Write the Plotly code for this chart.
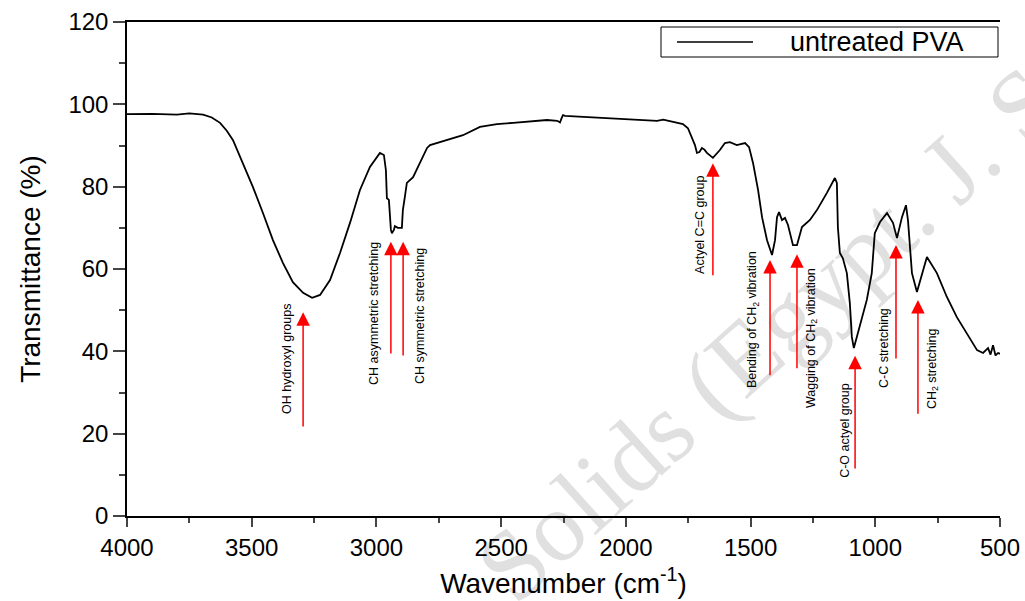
import plotly.graph_objects as go

# FTIR spectrum of untreated PVA
wavenumber = [
    4000, 3900, 3800, 3750, 3695, 3660, 3627, 3600, 3575, 3535, 3495, 3455, 3415,
    3375, 3335, 3294, 3258, 3226, 3186, 3146, 3106, 3066, 3026, 2986, 2970, 2962,
    2958, 2950, 2942, 2938, 2930, 2926, 2914, 2898, 2894, 2886, 2878, 2853, 2825,
    2797, 2785, 2717, 2653, 2585, 2517, 2452, 2384, 2316, 2275, 2264, 2258, 2252,
    2244, 1875, 1850, 1811, 1771, 1751, 1735, 1723, 1715, 1705, 1695, 1685, 1675,
    1651, 1623, 1603, 1583, 1555, 1522, 1506, 1490, 1470, 1454, 1434, 1414, 1402,
    1394, 1386, 1374, 1362, 1350, 1330, 1314, 1294, 1262, 1234, 1194, 1162, 1154,
    1150, 1142, 1130, 1114, 1102, 1094, 1086, 1074, 1054, 1034, 1014, 1002, 981,
    953, 929, 913, 893, 877, 869, 853, 833, 813, 793, 753, 713, 673, 632, 592,
    568, 548, 538, 528, 518, 508, 500,
]
transmittance = [
    97.6, 97.7, 97.5, 97.8, 97.5, 96.8, 95.5, 93.6, 91.3, 85.7, 79.9, 73.6, 67.0,
    61.5, 56.8, 54.2, 53.0, 53.7, 57.3, 63.9, 71.2, 79.2, 84.8, 88.2, 87.7, 84.0,
    77.2, 76.8, 69.5, 68.7, 69.5, 70.4, 70.0, 70.0, 74.3, 77.5, 80.9, 82.3, 85.7,
    89.4, 90.1, 91.3, 92.5, 94.5, 95.2, 95.5, 95.9, 96.2, 96.0, 95.6, 96.6, 97.4,
    97.2, 96.0, 96.3, 95.7, 95.2, 94.2, 92.1, 90.1, 88.2, 88.4, 89.4, 89.0, 88.2,
    87.0, 88.9, 90.6, 90.8, 90.1, 90.6, 89.6, 85.7, 79.2, 72.6, 67.0, 63.4, 67.0,
    72.6, 73.8, 71.9, 72.4, 70.7, 65.8, 65.8, 70.2, 71.9, 74.3, 78.5, 82.1, 80.9,
    70.2, 63.9, 62.6, 59.0, 51.7, 43.5, 40.8, 43.5, 48.3, 52.5, 59.0, 68.7, 71.4,
    73.6, 71.2, 67.5, 72.6, 75.5, 71.9, 59.0, 54.4, 59.0, 62.9, 59.0, 53.2, 48.3,
    44.4, 40.3, 39.6, 40.8, 39.2, 41.5, 39.0, 39.6, 39.4,
]
series_name = "untreated PVA"

# Band assignments: label text, arrow wavenumber, arrow tip / tail transmittance,
# label centre wavenumber and transmittance
band_labels = [
    "OH hydroxyl groups", "CH asymmetric stretching", "CH symmetric stretching",
    "Actyel C=C group", "Bending of CH<sub>2</sub> vibration",
    "Wagging of CH<sub>2</sub> vibration", "C-O actyel group", "C-C stretching",
    "CH<sub>2</sub> stretching",
]
band_wn = [3294, 2942, 2893, 1651, 1422, 1314, 1081, 917, 829]
arrow_tip = [49.5, 66.6, 66.6, 85.7, 62.2, 63.6, 38.9, 65.8, 52.5]
arrow_tail = [21.4, 39.1, 38.6, 58.1, 33.8, 35.5, 11.2, 37.9, 24.5]
label_wn = [3359, 3010, 2825, 1703, 1490, 1254, 1122, 965, 769]
label_t = [38.1, 49.3, 48.6, 70.7, 47.6, 43.2, 20.9, 40.8, 35.9]

x_ticks = [4000, 3500, 3000, 2500, 2000, 1500, 1000, 500]
y_ticks = [0, 20, 40, 60, 80, 100, 120]

FONT = "Liberation Sans, Arial, sans-serif"
PLOT_L, PLOT_R, PLOT_T, PLOT_B = 127, 1000, 22, 516


def px_to_paper(px, py):
    return (px - PLOT_L) / (PLOT_R - PLOT_L), (PLOT_B - py) / (PLOT_B - PLOT_T)


fig = go.Figure()
fig.add_trace(go.Scatter(
    x=wavenumber, y=transmittance, mode="lines", name=series_name,
    line=dict(color="black", width=1.8), showlegend=False,
))

annotations = []
shapes = []

# faint diagonal watermark, kept underneath the curve and the axis labels
wx0, wy0 = px_to_paper(740, 290)
wx1, wy1 = px_to_paper(840, 310)
shapes.append(dict(
    type="rect", xref="paper", yref="paper", x0=wx0, y0=wy1, x1=wx1, y1=wy0,
    line=dict(width=0), fillcolor="rgba(0,0,0,0)", layer="below",
    label=dict(text="Solids (Egypt. J. Sol", textangle=-42, textposition="middle center",
               font=dict(family="Liberation Serif, serif", size=100, color="#e0e0e0")),
))

# band assignment arrows and labels
for lab, wn, tip, tail, lw, lt in zip(band_labels, band_wn, arrow_tip, arrow_tail, label_wn, label_t):
    annotations.append(dict(
        x=wn, y=tip, ax=wn, ay=tail, xref="x", yref="y", axref="x", ayref="y",
        showarrow=True, arrowhead=2, arrowsize=1.8, arrowwidth=1.5,
        arrowcolor="#ff0000", text="", standoff=0,
    ))
    annotations.append(dict(
        x=lw, y=lt, xref="x", yref="y", text=lab, showarrow=False, textangle=-90,
        xanchor="center", yanchor="middle",
        font=dict(family=FONT, size=12.5, color="black"),
    ))

# boxed legend in the upper right corner
bx0, by0 = px_to_paper(661, 57)
bx1, by1 = px_to_paper(998, 27)
shapes.append(dict(type="rect", xref="paper", yref="paper", x0=bx0, y0=by0, x1=bx1, y1=by1,
                   line=dict(color="black", width=1), fillcolor="white", layer="above"))
lx0, ly = px_to_paper(677, 42)
lx1, _ = px_to_paper(753, 42)
shapes.append(dict(type="line", xref="paper", yref="paper", x0=lx0, y0=ly, x1=lx1, y1=ly,
                   line=dict(color="black", width=1.5), layer="above"))
tx, ty = px_to_paper(877, 42)
annotations.append(dict(
    text=series_name, xref="paper", yref="paper", x=tx, y=ty,
    xanchor="center", yanchor="middle", showarrow=False,
    font=dict(family=FONT, size=27, color="black"),
))

fig.update_layout(
    width=1025, height=601,
    margin=dict(l=PLOT_L, r=1025 - PLOT_R, t=PLOT_T, b=601 - PLOT_B),
    paper_bgcolor="white", plot_bgcolor="rgba(0,0,0,0)",
    font=dict(family=FONT, color="black"),
    showlegend=False,
    annotations=annotations,
    shapes=shapes,
    xaxis=dict(
        range=[4000, 500], tickvals=x_ticks, ticks="outside", ticklen=9, tickwidth=1.5,
        showline=True, linecolor="black", linewidth=1.5, showgrid=False, zeroline=False,
        tickfont=dict(size=24), mirror=True, automargin=False,
        minor=dict(dtick=250, ticks="outside", ticklen=5, tickwidth=1.5, showgrid=False),
        title=dict(text="Wavenumber (cm<sup>-1</sup>)", font=dict(size=28), standoff=14),
    ),
    yaxis=dict(
        range=[0, 120], tickvals=y_ticks, ticks="outside", ticklen=12, tickwidth=1.5,
        showline=True, linecolor="black", linewidth=1.5, showgrid=False, zeroline=False,
        tickfont=dict(size=24), automargin=False,
        minor=dict(dtick=10, ticks="outside", ticklen=6, tickwidth=1.5, showgrid=False),
        title=dict(text="Transmittance (%)", font=dict(size=28), standoff=20),
    ),
    yaxis2=dict(
        range=[0, 120], overlaying="y", side="right", anchor="x", tickvals=y_ticks,
        ticks="inside", ticklen=12, tickwidth=1.5, showticklabels=False, automargin=False,
        showline=True, linecolor="black", linewidth=1.5, showgrid=False, zeroline=False,
        minor=dict(dtick=10, ticks="inside", ticklen=8, tickwidth=1.5, showgrid=False),
    ),
)

fig.write_html("out.html")
